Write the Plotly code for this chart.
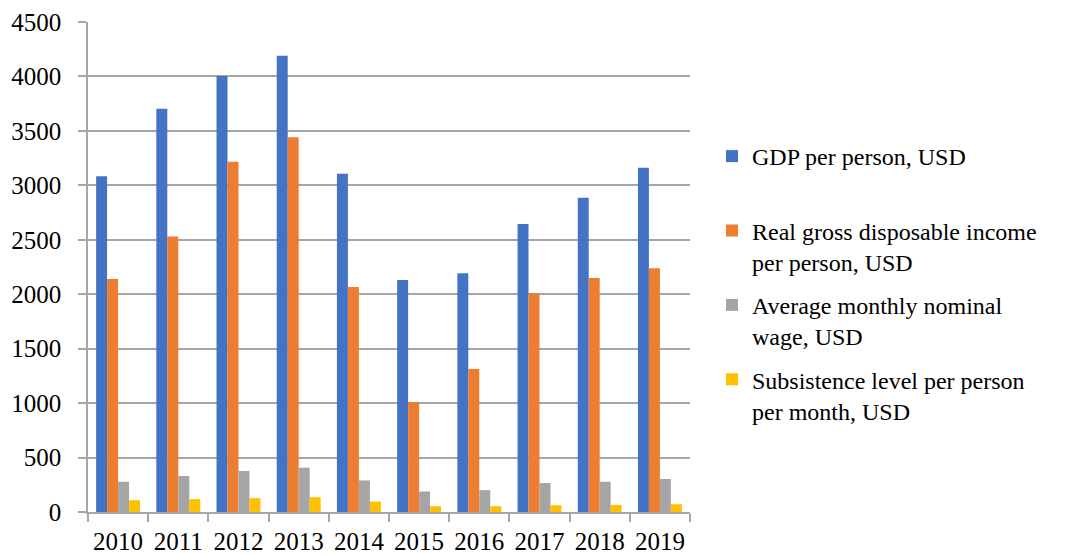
import plotly.graph_objects as go

years = ["2010", "2011", "2012", "2013", "2014", "2015", "2016", "2017", "2018", "2019"]
gdp = [3083, 3704, 4004, 4190, 3107, 2131, 2192, 2645, 2887, 3162]
income = [2140, 2530, 3217, 3441, 2066, 1010, 1313, 2008, 2149, 2238]
wage = [278, 330, 377, 407, 290, 188, 201, 266, 278, 303]
subsistence = [108, 118, 127, 136, 96, 53, 53, 62, 65, 71]

names = [
    "GDP per person, USD<br>\u00a0",
    "Real gross disposable income<br>per person, USD",
    "Average monthly nominal<br>wage, USD",
    "Subsistence level per person<br>per month, USD",
]
colors = ["#4472C4", "#ED7D31", "#A5A5A5", "#FFC000"]
series = [gdp, income, wage, subsistence]

fig = go.Figure()
for i, (nm, col, vals) in enumerate(zip(names, colors, series)):
    fig.add_trace(go.Bar(x=years, y=vals, name=nm, marker_color=col,
                         marker_line_width=0, legendgroup=f"g{i}"))

font_family = '"Liberation Serif", "Times New Roman", serif'
fig.update_layout(
    width=1073, height=555,
    margin=dict(l=88, r=383, t=22, b=43),
    paper_bgcolor="white", plot_bgcolor="white",
    barmode="group", bargap=0.27, bargroupgap=0,
    font=dict(family=font_family, size=24, color="black"),
    showlegend=True,
    legend=dict(
        xref="container", yref="container",
        x=712 / 1073, xanchor="left",
        y=1 - 134 / 555, yanchor="top",
        valign="top", tracegroupgap=9,
        maxheight=520,
        font=dict(family=font_family, size=24, color="black"),
        itemsizing="constant",
    ),
    yaxis=dict(
        range=[0, 4500], dtick=500, tick0=0,
        showgrid=True, gridcolor="#a6a6a6", gridwidth=1.5,
        showline=True, linecolor="#a6a6a6", linewidth=1.5,
        ticks="outside", ticklen=8, tickcolor="#a6a6a6", tickwidth=1.5,
        ticklabelstandoff=12,
        zeroline=False, automargin=False,
        tickfont=dict(family=font_family, size=25, color="black"),
    ),
    xaxis=dict(
        type="category",
        showline=True, linecolor="#a6a6a6", linewidth=1.5,
        ticks="outside", tickson="boundaries", ticklen=8,
        tickcolor="#a6a6a6", tickwidth=1.5,
        ticklabelstandoff=6,
        showgrid=False, automargin=False,
        tickfont=dict(family=font_family, size=25, color="black"),
    ),
)

fig.write_html("out.html")
